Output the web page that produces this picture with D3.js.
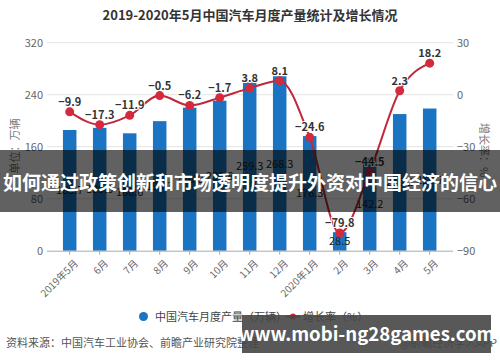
<!DOCTYPE html>
<html><head><meta charset="utf-8">
<script src="https://cdn.jsdelivr.net/npm/d3@7"></script>
<style>
body{margin:0;background:#fff}
svg{display:block;font-family:"Noto Sans CJK SC","Noto Sans",sans-serif}
</style></head>
<body><svg id="c" width="500" height="362"></svg>
<script>
const categories=["2019年5月","6月","7月","8月","9月","10月","11月","12月","2020年1月","2月","3月","4月","5月"];
const production=[185.7,189.0,180.6,199.3,220.0,230.8,259.3,268.3,176.3,28.5,142.2,210.2,218.7];
const growth=[-9.9,-17.3,-11.9,-0.5,-6.2,-1.7,3.8,8.1,-24.6,-79.8,-44.5,2.3,18.2];
const leftTicks=[0,80,160,240,320];
const rightTicks=[-90,-60,-30,0,30];

const svg=d3.select("#c");
const plotTop=42.7, plotBottom=250.7, gl=47, gr=453;
const x=d3.scaleBand().domain(categories).range([54.7,444.7]).paddingInner(0.55).paddingOuter(0.275);
const yL=d3.scaleLinear().domain([0,320]).range([plotBottom,plotTop]);
const yR=d3.scaleLinear().domain([-90,30]).range([plotBottom,plotTop]);

// title
svg.append("text").attr("x",250).attr("y",20).attr("text-anchor","middle")
 .attr("font-size",13).attr("font-weight","bold").attr("fill","#333")
 .text("2019-2020年5月中国汽车月度产量统计及增长情况");

// gridlines
svg.append("g").selectAll("line").data(leftTicks.slice(1)).join("line")
 .attr("x1",gl).attr("x2",gr).attr("y1",d=>yL(d)).attr("y2",d=>yL(d))
 .attr("stroke","#e3e3e3").attr("stroke-width",1);

// left axis
const la=svg.append("g").attr("transform",`translate(${gl},0)`)
 .call(d3.axisLeft(yL).tickValues(leftTicks).tickSize(0).tickPadding(4));
la.select(".domain").remove();
la.selectAll("text").attr("font-size",11).attr("fill","#666").style("font-family","Noto Sans CJK SC");
// right axis
const ra=svg.append("g").attr("transform",`translate(${gr},0)`)
 .call(d3.axisRight(yR).tickValues(rightTicks).tickSize(0).tickPadding(4));
ra.select(".domain").remove();
ra.selectAll("text").attr("font-size",11).attr("fill","#666").style("font-family","Noto Sans CJK SC");

// axis titles
svg.append("text").attr("transform",`translate(19,146) rotate(-90)`).attr("text-anchor","middle")
 .attr("font-size",11).attr("fill","#777").text("单位：万辆");
svg.append("text").attr("transform",`translate(480,150) rotate(90)`).attr("text-anchor","middle")
 .attr("font-size",11).attr("fill","#777").text("增长率：%");

// bars
svg.append("g").selectAll("rect").data(production).join("rect")
 .attr("x",(d,i)=>x(categories[i])).attr("width",x.bandwidth())
 .attr("y",d=>yL(d)).attr("height",d=>yL(0)-yL(d)).attr("fill","#1a74c1");

// bottom axis
const ba=svg.append("g").attr("transform",`translate(0,${plotBottom})`)
 .call(d3.axisBottom(x).tickSize(4).tickSizeOuter(0));
ba.select(".domain").attr("d",`M${gl},0.5H${gr}`).attr("stroke","#aaa");
ba.selectAll(".tick line").attr("stroke","#aaa");
ba.selectAll("text").attr("font-size",10).attr("fill","#666").style("font-family","Noto Sans CJK SC")
 .attr("text-anchor","end").attr("transform","translate(2,2) rotate(-45)").attr("dy","0.6em").attr("dx","-0.3em");

// bar labels
svg.append("g").selectAll("text").data(production).join("text")
 .attr("x",(d,i)=>x(categories[i])+x.bandwidth()/2).attr("y",d=>(yL(d)+yL(0))/2+4)
 .attr("text-anchor","middle").attr("font-size",11).attr("fill","#222").text(d=>d.toFixed(1));

// line
const cx=(i)=>x(categories[i])+x.bandwidth()/2;
const line=d3.line().x((d,i)=>cx(i)).y(d=>yR(d)).curve(d3.curveMonotoneX);
svg.append("path").datum(growth).attr("d",line).attr("fill","none").attr("stroke","#c0283c").attr("stroke-width",2);
svg.append("g").selectAll("circle").data(growth).join("circle")
 .attr("cx",(d,i)=>cx(i)).attr("cy",d=>yR(d)).attr("r",4.5).attr("fill","#d42a3e");
svg.append("g").selectAll("text").data(growth).join("text")
 .attr("x",(d,i)=>cx(i)).attr("y",d=>yR(d)-6)
 .attr("text-anchor","middle").attr("font-size",11).attr("font-weight","bold").attr("fill","#333")
 .attr("stroke","#fff").attr("stroke-width",2).attr("paint-order","stroke")
 .text(d=>d.toFixed(1).replace("-","−"));

// legend
svg.append("circle").attr("cx",143.5).attr("cy",316.5).attr("r",4.5).attr("fill","#1a74c1");
svg.append("text").attr("x",155).attr("y",320.5).attr("font-size",11).attr("fill","#444").text("中国汽车月度产量（万辆）");
svg.append("line").attr("x1",286).attr("x2",300).attr("y1",316.5).attr("y2",316.5).attr("stroke","#c0283c").attr("stroke-width",2);
svg.append("circle").attr("cx",293).attr("cy",316.5).attr("r",3).attr("fill","#d42a3e");
svg.append("text").attr("x",303).attr("y",320.5).attr("font-size",11).attr("fill","#444").text("增长率（%）");

// source
svg.append("text").attr("x",6).attr("y",347).attr("font-size",11).attr("fill","#555").text("资料来源：中国汽车工业协会、前瞻产业研究院整理");
svg.append("text").attr("x",497).attr("y",347).attr("text-anchor","end").attr("font-size",11).attr("fill","#555").text("@前瞻经济学人APP");

// overlay banner
svg.append("rect").attr("x",0).attr("y",150).attr("width",500).attr("height",62).attr("fill","rgba(0,0,0,0.62)");
svg.append("text").attr("x",250).attr("y",190).attr("text-anchor","middle").attr("font-size",19)
 .attr("font-weight","bold").attr("fill","#fff").text("如何通过政策创新和市场透明度提升外资对中国经济的信心");

// watermark box
svg.append("rect").attr("x",242).attr("y",315).attr("width",249).attr("height",38).attr("fill","rgba(70,70,70,0.9)");
svg.append("text").attr("x",366.5).attr("y",341).attr("text-anchor","middle").attr("font-size",18.6)
 .attr("font-weight","bold").attr("fill","#fff").text("www.mobi-ng28games.com");
</script></body></html>
